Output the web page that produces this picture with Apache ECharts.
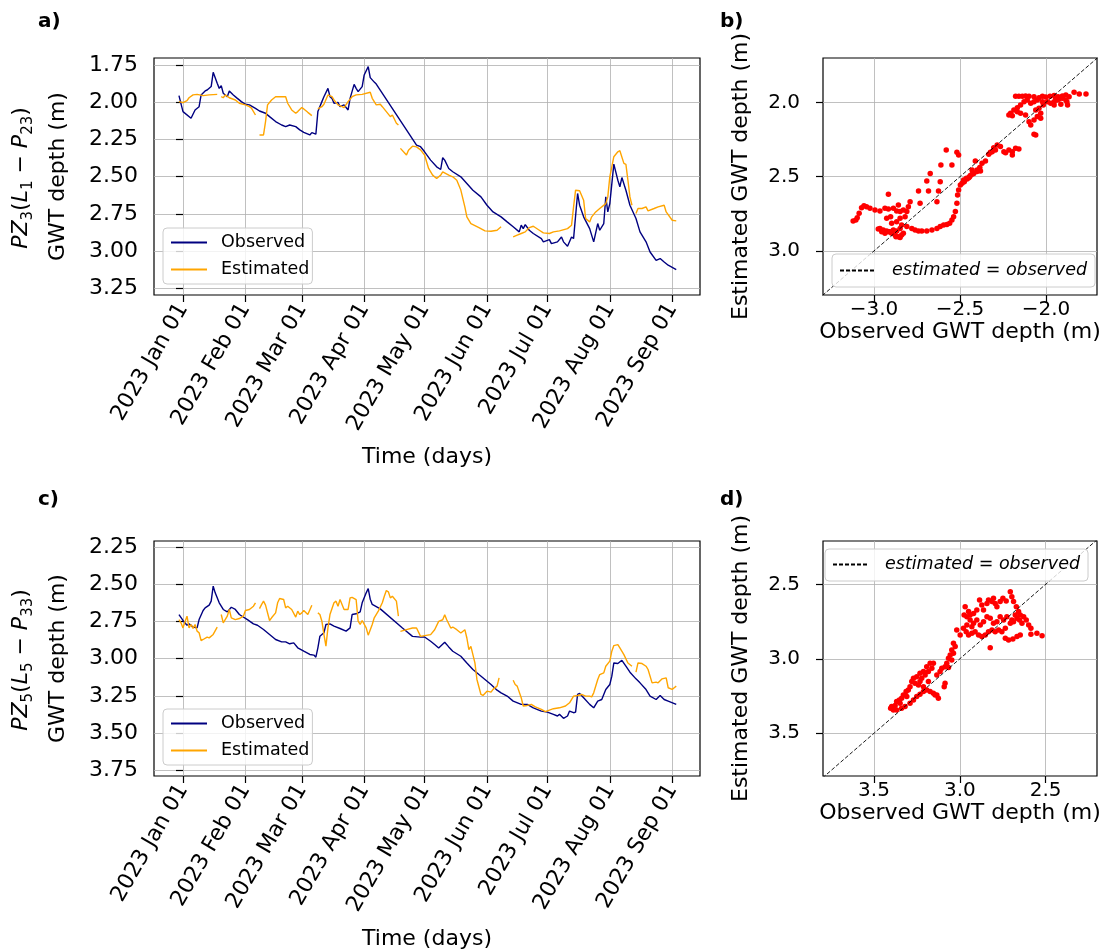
<!DOCTYPE html>
<html>
<head>
<meta charset="utf-8">
<script src="https://cdn.jsdelivr.net/npm/echarts@6/dist/echarts.min.js"></script>
<style>
  html, body { margin: 0; padding: 0; background: #fff; }
  #chart { width: 1110px; height: 951px; }
</style>
</head>
<body>
<div id="chart"></div>
<script>
// days counted from 2023-01-01
const monthStarts = [0, 31, 59, 90, 120, 151, 181, 212, 243]
const monthLabels = ['2023 Jan 01', '2023 Feb 01', '2023 Mar 01', '2023 Apr 01', '2023 May 01',
  '2023 Jun 01', '2023 Jul 01', '2023 Aug 01', '2023 Sep 01']

const depthTicksA = [1.75, 2.0, 2.25, 2.5, 2.75, 3.0, 3.25]
const depthTicksC = [2.25, 2.5, 2.75, 3.0, 3.25, 3.5, 3.75]
const obsTicksB = [-3.0, -2.5, -2.0]
const estTicksB = [2.0, 2.5, 3.0]
const ticksD = [2.5, 3.0, 3.5]

// PZ3 (L1 - P23): [day, depth]; null = missing data
const observedA = [
  [-2, 1.956], [0, 2.063], [4, 2.108], [6, 2.052], [8, 2.030], [9, 1.951], [11, 1.924], [12, 1.918],
  [14, 1.895], [15, 1.799], [17, 1.873], [18, 1.907], [19, 1.889], [20, 1.940], [22, 1.963], [23, 1.924],
  [25, 1.951], [27, 1.974], [29, 1.996], [31, 2.014], [33, 2.018], [36, 2.041], [38, 2.059], [41, 2.074],
  [43, 2.097], [46, 2.130], [49, 2.153], [51, 2.164], [53, 2.153], [56, 2.164], [58, 2.186], [60, 2.202],
  [63, 2.220], [64, 2.204], [66, 2.215], [67, 2.063], [69, 1.996], [70, 1.963], [72, 1.907], [73, 1.963],
  [74, 1.974], [75, 2.007], [77, 2.001], [78, 2.030], [80, 2.018], [82, 2.052], [83, 1.974], [85, 1.880],
  [86, 1.907], [87, 1.929], [89, 1.895], [90, 1.817], [92, 1.761], [93, 1.835], [95, 1.865], [96, 1.878],
  [116, 2.288], [118, 2.299], [120, 2.333], [123, 2.389], [126, 2.434], [128, 2.452], [129, 2.373],
  [130, 2.389], [132, 2.445], [134, 2.467], [138, 2.501], [141, 2.546], [144, 2.591], [148, 2.636],
  [151, 2.692], [154, 2.737], [158, 2.770], [161, 2.804], [164, 2.837], [167, 2.871], [168, 2.826],
  [169, 2.849], [170, 2.822], [172, 2.860], [174, 2.882], [178, 2.916], [179, 2.938], [182, 2.923],
  [183, 2.950], [186, 2.938], [188, 2.905], [189, 2.938], [191, 2.967], [193, 2.905], [194, 2.916],
  [196, 2.613], [197, 2.692], [199, 2.770], [202, 2.849], [204, 2.938], [206, 2.815], [207, 2.860],
  [209, 2.815], [210, 2.636], [211, 2.737], [212, 2.681], [214, 2.416], [216, 2.524], [217, 2.568],
  [218, 2.506], [220, 2.591], [222, 2.692], [225, 2.781], [227, 2.871], [230, 2.938], [232, 3.006],
  [235, 3.062], [237, 3.050], [239, 3.073], [241, 3.095], [245, 3.124]
]
const estimatedA = [
  [-2, 1.996], [0, 2.003], [2, 1.990], [3, 1.970], [5, 1.951], [7, 1.947], [10, 1.956], [13, 1.951], [17, 1.947],
  null,
  [19, 1.963], [20, 1.970], [21, 1.951], [23, 1.970], [26, 1.985], [28, 2.007], [31, 2.018], [33, 2.030],
  [34, 2.040], [36, 2.086],
  null,
  [38, 2.220], [40, 2.220], [41, 2.130], [42, 2.018], [44, 1.985], [46, 1.963], [48, 1.963], [51, 1.963],
  [52, 2.007], [54, 2.052], [56, 2.074], [57, 2.063], [59, 2.036], [60, 2.045], [62, 2.068], [64, 2.090],
  null,
  [67, 2.045], [69, 2.030], [70, 2.014], [72, 1.951], [74, 1.963], [75, 1.985], [77, 2.018], [79, 2.030],
  [80, 2.036], [82, 1.996], [84, 1.963], [86, 1.951], [89, 1.947], [93, 1.933], [94, 1.974], [96, 2.018],
  [98, 2.014], [99, 2.030], [101, 2.063], [103, 2.097], [104, 2.086], [106, 2.141], [107, 2.153],
  null,
  [108, 2.310], [111, 2.355], [112, 2.322], [114, 2.295], [116, 2.300], [118, 2.320], [120, 2.355],
  [122, 2.445], [124, 2.490], [126, 2.512], [128, 2.490], [129, 2.468], [132, 2.490], [134, 2.501],
  [136, 2.524], [138, 2.590], [140, 2.703], [141, 2.770], [143, 2.815], [147, 2.842], [150, 2.864],
  [153, 2.867], [156, 2.860], [158, 2.837],
  null,
  [164, 2.905], [166, 2.893], [168, 2.882], [170, 2.871], [172, 2.842], [174, 2.833], [177, 2.860],
  [179, 2.878], [182, 2.882], [184, 2.871], [187, 2.864], [191, 2.849], [193, 2.826], [194, 2.703],
  [195, 2.591], [197, 2.595], [199, 2.658], [200, 2.781], [202, 2.804], [203, 2.770], [205, 2.737],
  [207, 2.714], [210, 2.681], [211, 2.636], [212, 2.501], [214, 2.366], [216, 2.333], [217, 2.326],
  [219, 2.411], [220, 2.417], [221, 2.524], [222, 2.636], [223, 2.692],
  null,
  [225, 2.748], [226, 2.714], [228, 2.714], [230, 2.703], [231, 2.730], [234, 2.714], [236, 2.703],
  [239, 2.692], [240, 2.737], [243, 2.793], [245, 2.797]
]

// PZ5 (L5 - P33)
const observedC = [
  [-2, 2.703], [0, 2.743], [2, 2.775], [3, 2.766], [5, 2.788], [7, 2.793], [8, 2.737], [10, 2.676],
  [11, 2.658], [13, 2.640], [14, 2.613], [15, 2.512], [16, 2.557], [18, 2.624], [20, 2.669], [22, 2.685],
  [24, 2.654], [26, 2.669], [28, 2.703], [32, 2.737], [35, 2.766], [37, 2.775], [40, 2.804], [43, 2.837],
  [46, 2.871], [49, 2.887], [51, 2.887], [53, 2.900], [55, 2.894], [57, 2.927], [60, 2.950], [63, 2.972],
  [65, 2.976], [66, 2.990], [67, 2.927], [68, 2.849], [70, 2.826], [71, 2.770], [73, 2.766], [75, 2.781],
  [78, 2.797], [81, 2.815], [83, 2.793], [84, 2.703], [86, 2.698], [88, 2.685], [89, 2.624], [91, 2.557],
  [92, 2.528], [93, 2.600], [94, 2.635], [98, 2.665], [109, 2.794], [114, 2.850], [118, 2.855],
  [120, 2.854], [123, 2.883], [125, 2.905], [127, 2.928], [130, 2.890], [132, 2.921], [134, 2.950],
  [138, 2.984], [141, 3.029], [144, 3.073], [147, 3.107], [150, 3.140], [153, 3.174], [156, 3.212],
  [158, 3.230], [161, 3.252], [164, 3.286], [168, 3.308], [171, 3.308], [174, 3.331], [178, 3.353],
  [181, 3.360], [184, 3.375], [186, 3.386], [187, 3.375], [189, 3.402], [191, 3.386], [192, 3.353],
  [194, 3.364], [195, 3.360], [196, 3.241], [197, 3.234], [199, 3.263], [202, 3.308], [204, 3.331],
  [206, 3.286], [208, 3.275], [210, 3.208], [212, 3.174], [213, 3.118], [214, 3.029], [216, 3.033],
  [218, 3.011], [220, 3.051], [222, 3.091], [225, 3.136], [227, 3.163], [230, 3.208], [232, 3.252],
  [235, 3.275], [237, 3.248], [239, 3.275], [241, 3.286], [245, 3.308]
]
const estimatedC = [
  [-2, 2.737], [-1, 2.759], [0, 2.793], [1, 2.752], [2, 2.714], [3, 2.793], [4, 2.770], [5, 2.797],
  [6, 2.770], [7, 2.815], [8, 2.826], [9, 2.878], [10, 2.871], [12, 2.855], [13, 2.860], [15, 2.837], [17, 2.788],
  null,
  [19, 2.703], [20, 2.759], [22, 2.714], [23, 2.669], [24, 2.725], [26, 2.737], [28, 2.730], [30, 2.714],
  [31, 2.676], [33, 2.669], [35, 2.647], [36, 2.624],
  null,
  [38, 2.663], [39, 2.636], [40, 2.613], [41, 2.640], [43, 2.743], [44, 2.725], [46, 2.692], [47, 2.624],
  [48, 2.595], [50, 2.602], [51, 2.658], [52, 2.647], [54, 2.669], [56, 2.720], [57, 2.680], [58, 2.703],
  [59, 2.692], [60, 2.676], [62, 2.703], [64, 2.640],
  null,
  [67, 2.692], [68, 2.703], [69, 2.748], [70, 2.837], [71, 2.916], [72, 2.793], [73, 2.703], [75, 2.624],
  [76, 2.613], [77, 2.647], [78, 2.602], [80, 2.669], [82, 2.669], [83, 2.591], [84, 2.587], [86, 2.602],
  [87, 2.748], [88, 2.770], [89, 2.743], [91, 2.793], [92, 2.842], [94, 2.770], [95, 2.725], [97, 2.680],
  [99, 2.624], [100, 2.580], [101, 2.541], [102, 2.550], [103, 2.591], [104, 2.580], [106, 2.613], [107, 2.714],
  null,
  [108, 2.816], [111, 2.805], [114, 2.794], [116, 2.794], [118, 2.850], [120, 2.845], [123, 2.838],
  [125, 2.805], [127, 2.749], [129, 2.738], [130, 2.704], [131, 2.738], [133, 2.794], [134, 2.787],
  [136, 2.805], [138, 2.827], [140, 2.805], [141, 2.861], [142, 2.939], [143, 2.917], [145, 3.029],
  [146, 3.140], [148, 3.241], [149, 3.248], [151, 3.219], [153, 3.225], [154, 3.207], [156, 3.185], [157, 3.129],
  null,
  [164, 3.145], [165, 3.174], [166, 3.185], [168, 3.263], [169, 3.319], [171, 3.315], [173, 3.308],
  [175, 3.324], [178, 3.342], [180, 3.357], [182, 3.346], [184, 3.337], [187, 3.331], [190, 3.319],
  [192, 3.297], [194, 3.252], [196, 3.248], [198, 3.241], [200, 3.252], [202, 3.252], [203, 3.257],
  [204, 3.230], [206, 3.140], [207, 3.107], [209, 3.096], [210, 3.051], [212, 3.017], [213, 2.950],
  [214, 2.912], [216, 2.906], [217, 2.928], [219, 2.973], [221, 3.029], [223, 3.051],
  null,
  [225, 3.091], [226, 3.029], [228, 3.033], [230, 3.051], [231, 3.073], [233, 3.163], [235, 3.158],
  [236, 3.163], [238, 3.136], [240, 3.129], [241, 3.196], [243, 3.207], [244, 3.196], [245, 3.185]
]

// scatter b: [observed (negative depth), estimated depth]
const scatterB = [
  [-2.177, 1.960], [-2.158, 1.960], [-2.138, 1.960], [-2.119, 1.957], [-2.099, 1.960], [-2.070, 1.962],
  [-2.041, 1.969], [-2.021, 1.960], [-2.002, 1.964], [-1.977, 1.960], [-1.953, 1.955], [-1.930, 1.962],
  [-1.905, 1.957], [-1.885, 1.951], [-1.866, 1.962], [-1.837, 1.933], [-1.807, 1.944], [-1.768, 1.944],
  [-1.944, 1.973], [-1.924, 1.978], [-1.905, 1.973], [-1.885, 1.984], [-1.953, 1.996], [-1.973, 2.007],
  [-1.992, 1.996], [-2.021, 1.996], [-2.051, 1.984], [-2.070, 1.996], [-2.089, 2.007], [-2.109, 1.984],
  [-2.128, 1.996], [-2.148, 2.018], [-2.167, 2.036], [-2.187, 2.052], [-2.206, 2.074], [-2.216, 2.085],
  [-2.196, 2.090], [-2.167, 2.063], [-2.148, 2.074], [-2.119, 2.085], [-2.099, 2.130], [-2.089, 2.152],
  [-2.070, 2.119], [-2.051, 2.096], [-2.031, 2.074], [-2.060, 2.052], [-2.041, 2.040], [-2.016, 2.018],
  [-1.953, 2.018], [-1.914, 2.013], [-1.875, 2.018], [-1.879, 1.996], [-1.934, 1.984], [-2.031, 2.108],
  [-2.060, 2.220], [-2.070, 2.215],
  [-2.177, 2.309], [-2.158, 2.314], [-2.196, 2.332], [-2.216, 2.321], [-2.235, 2.339], [-2.245, 2.332],
  [-2.265, 2.298], [-2.284, 2.287], [-2.304, 2.305], [-2.323, 2.336], [-2.333, 2.350], [-2.313, 2.332],
  [-2.294, 2.321], [-2.196, 2.354],
  [-2.352, 2.395], [-2.372, 2.410], [-2.385, 2.439], [-2.411, 2.395], [-2.381, 2.462], [-2.401, 2.466],
  [-2.420, 2.478], [-2.430, 2.484], [-2.440, 2.493], [-2.449, 2.507], [-2.459, 2.516], [-2.475, 2.534],
  [-2.488, 2.545], [-2.498, 2.556], [-2.479, 2.522], [-2.463, 2.511], [-2.444, 2.500], [-2.430, 2.455],
  [-2.401, 2.455],
  [-2.580, 2.321], [-2.518, 2.336], [-2.508, 2.354], [-2.547, 2.422], [-2.611, 2.422], [-2.673, 2.478],
  [-2.693, 2.529], [-2.615, 2.534], [-2.625, 2.596], [-2.683, 2.596], [-2.741, 2.596], [-2.634, 2.668],
  [-2.916, 2.619], [-2.732, 2.679], [-2.790, 2.668], [-2.800, 2.702], [-2.858, 2.691], [-2.887, 2.713],
  [-2.868, 2.731], [-2.829, 2.724], [-2.809, 2.735], [-2.848, 2.735], [-2.903, 2.769], [-2.926, 2.780],
  [-2.897, 2.814], [-2.848, 2.780], [-2.819, 2.769], [-2.868, 2.803], [-2.839, 2.825], [-2.809, 2.836],
  [-3.121, 2.798], [-3.105, 2.791], [-3.097, 2.776], [-3.086, 2.747], [-3.072, 2.709], [-3.058, 2.695],
  [-3.043, 2.702], [-3.023, 2.713], [-2.994, 2.724], [-2.965, 2.731], [-2.936, 2.713], [-2.916, 2.717],
  [-2.965, 2.848], [-2.946, 2.859], [-2.926, 2.865], [-2.907, 2.870], [-2.887, 2.859], [-2.868, 2.865],
  [-2.848, 2.848], [-2.955, 2.870], [-2.936, 2.881], [-2.897, 2.881], [-2.877, 2.892], [-2.858, 2.904],
  [-2.839, 2.892], [-2.829, 2.881], [-2.848, 2.910], [-2.872, 2.904], [-2.916, 2.870], [-2.975, 2.852],
  [-2.780, 2.848], [-2.761, 2.859], [-2.741, 2.865], [-2.722, 2.865], [-2.693, 2.865], [-2.663, 2.859],
  [-2.634, 2.848], [-2.615, 2.836], [-2.595, 2.825], [-2.576, 2.821], [-2.560, 2.814], [-2.547, 2.791],
  [-2.537, 2.769], [-2.527, 2.735], [-2.518, 2.679], [-2.514, 2.623], [-2.508, 2.590]
]

// scatter d: [observed depth, estimated depth]
const scatterD = [
  [2.969, 2.650], [2.949, 2.683], [2.975, 2.706], [2.959, 2.717], [2.940, 2.706], [2.920, 2.695],
  [2.901, 2.672], [2.885, 2.605], [2.872, 2.639], [2.862, 2.672], [2.842, 2.628], [2.833, 2.605],
  [2.813, 2.616], [2.804, 2.594], [2.794, 2.628], [2.784, 2.650], [2.765, 2.616], [2.749, 2.594],
  [2.730, 2.612], [2.706, 2.549], [2.697, 2.583], [2.687, 2.616], [2.671, 2.650], [2.658, 2.683],
  [2.648, 2.706], [2.667, 2.728], [2.687, 2.751], [2.706, 2.762], [2.726, 2.717], [2.745, 2.739],
  [2.765, 2.717], [2.784, 2.751], [2.804, 2.762], [2.823, 2.728], [2.842, 2.717], [2.862, 2.751],
  [2.881, 2.773], [2.901, 2.739], [2.920, 2.762], [2.930, 2.784], [2.940, 2.739], [2.959, 2.773],
  [2.979, 2.795], [2.963, 2.818], [2.949, 2.840], [2.930, 2.829], [2.911, 2.818], [2.891, 2.840],
  [2.872, 2.851], [2.852, 2.840], [2.833, 2.818], [2.813, 2.806], [2.794, 2.818], [2.774, 2.806],
  [2.755, 2.818], [2.735, 2.795], [2.697, 2.739], [2.677, 2.706], [2.652, 2.739], [2.638, 2.762],
  [2.628, 2.717], [2.613, 2.739], [2.599, 2.773], [2.586, 2.795], [2.648, 2.840], [2.667, 2.851],
  [2.691, 2.867], [2.716, 2.874], [2.735, 2.862], [2.586, 2.836], [2.551, 2.829], [2.521, 2.845],
  [2.823, 2.925], [3.018, 2.806], [2.998, 2.840],
  [3.037, 2.896], [3.027, 2.918], [3.047, 2.941], [3.037, 2.963], [3.056, 2.974], [3.066, 2.997],
  [3.047, 3.008], [3.076, 3.030], [3.086, 3.053], [3.066, 3.059],
  [3.154, 3.030], [3.173, 3.030], [3.193, 3.053], [3.163, 3.064], [3.183, 3.086], [3.212, 3.086],
  [3.232, 3.097], [3.202, 3.109], [3.222, 3.131], [3.251, 3.120], [3.270, 3.131], [3.280, 3.153],
  [3.261, 3.164], [3.241, 3.176], [3.232, 3.153], [3.290, 3.187], [3.300, 3.209], [3.313, 3.220],
  [3.329, 3.243], [3.309, 3.254], [3.339, 3.265], [3.352, 3.276], [3.368, 3.287], [3.348, 3.299],
  [3.377, 3.314], [3.397, 3.321], [3.403, 3.332], [3.387, 3.343], [3.368, 3.343], [3.339, 3.332],
  [3.319, 3.321], [3.290, 3.299], [3.270, 3.276], [3.251, 3.254], [3.232, 3.238], [3.212, 3.220],
  [3.193, 3.209], [3.173, 3.220], [3.154, 3.232], [3.134, 3.243], [3.125, 3.265], [3.144, 3.243],
  [3.086, 3.164], [3.091, 3.187], [3.115, 3.086], [3.134, 3.109], [3.105, 3.064], [3.183, 3.153],
  [3.212, 3.187]
]

const identityB = [[-3.3, 3.3], [-1.7, 1.7]]
const identityD = [[3.8, 3.8], [2.2, 2.2]]

const FONT = 'DejaVu Sans'
const GRID_COLOR = '#b0b0b0'

const withGaps = (arr) => arr.map((p, i) => p === null ? [arr[i - 1][0] + 0.5, '-'] : p)

const frame = { show: true, borderColor: '#000', borderWidth: 1.2 }

const axisName = { color: '#000', fontSize: 22, fontFamily: FONT }
const tickLine = { color: '#000', width: 1.2 }

const timeAxis = (gridIndex, gap) => ({
  type: 'value',
  gridIndex,
  min: -14.4,
  max: 256.8,
  name: 'Time (days)',
  nameLocation: 'middle',
  nameGap: gap,
  nameTextStyle: axisName,
  axisLine: { show: false },
  axisTick: { show: true, customValues: monthStarts, length: 7, lineStyle: tickLine },
  axisLabel: {
    color: '#000',
    fontSize: 22,
    fontFamily: FONT,
    customValues: monthStarts,
    rotate: 60,
    margin: 10,
    formatter: (v) => monthLabels[monthStarts.indexOf(v)]
  },
  splitLine: { show: true, lineStyle: { color: GRID_COLOR, width: 0.8 } }
})

const valueAxis = (gridIndex, min, max, ticks, digits, size, margin, opts) => ({
  type: 'value',
  gridIndex,
  min,
  max,
  axisLine: { show: false },
  axisTick: { show: true, customValues: ticks, length: 7, lineStyle: tickLine },
  axisLabel: {
    color: '#000',
    fontSize: size,
    fontFamily: FONT,
    customValues: ticks,
    margin,
    formatter: (v) => (v < 0 ? '\u2212' : '') + Math.abs(v).toFixed(digits)
  },
  splitLine: { show: true, lineStyle: { color: GRID_COLOR, width: 0.8 } },
  nameLocation: 'middle',
  nameTextStyle: axisName,
  ...opts
})

const legendBase = {
  orient: 'vertical',
  backgroundColor: 'rgba(255,255,255,0.8)',
  borderColor: '#cccccc',
  borderWidth: 1,
  borderRadius: 4,
  itemWidth: 36,
  itemHeight: 14,
  itemGap: 6,
  itemStyle: { opacity: 0, borderWidth: 0 },
  textStyle: { color: '#000', fontSize: 17.5, fontFamily: FONT, lineHeight: 21, padding: [0, 0, 0, 9] }
}
const italicLegendText = { ...legendBase.textStyle, fontStyle: 'italic', padding: [0, 0, 0, 11] }

const mathRich = {
  i: { fontSize: 22, fontFamily: FONT, fontStyle: 'italic', lineHeight: 30, fill: '#000' },
  n: { fontSize: 22, fontFamily: FONT, lineHeight: 30, fill: '#000' },
  s: { fontSize: 15, fontFamily: FONT, lineHeight: 30, verticalAlign: 'bottom', fill: '#000' }
}

const panelLabel = (text, left, top) => ({
  type: 'text', left, top, style: { text, font: 'bold 20px "DejaVu Sans"', fill: '#000' }
})

const chart = echarts.init(document.getElementById('chart'))

const option = {
  animation: false,
  backgroundColor: '#fff',
  grid: [
    { left: 154, top: 58, width: 546, height: 237, ...frame },
    { left: 823, top: 58, width: 274, height: 237, ...frame },
    { left: 154, top: 541, width: 546, height: 235, ...frame },
    { left: 823, top: 541, width: 274, height: 235, ...frame }
  ],
  xAxis: [
    timeAxis(0, 151),
    valueAxis(1, -3.296, -1.704, obsTicksB, 1, 20, 5, { name: 'Observed GWT depth (m)', nameGap: 26 }),
    timeAxis(2, 152),
    valueAxis(3, 2.201, 3.797, ticksD, 1, 20, 5, { inverse: true, name: 'Observed GWT depth (m)', nameGap: 26 })
  ],
  yAxis: [
    valueAxis(0, 1.703, 3.295, depthTicksA, 2, 22, 16, { inverse: true, name: 'GWT depth (m)', nameGap: 85 }),
    valueAxis(1, 1.702, 3.296, estTicksB, 1, 20, 23, { inverse: true, name: 'Estimated GWT depth (m)', nameGap: 71 }),
    valueAxis(2, 2.208, 3.790, depthTicksC, 2, 22, 16, { inverse: true, name: 'GWT depth (m)', nameGap: 85 }),
    valueAxis(3, 2.209, 3.787, ticksD, 1, 20, 23, { inverse: true, name: 'Estimated GWT depth (m)', nameGap: 71 })
  ],
  legend: [
    { ...legendBase, left: 163, top: 228, padding: [4, 3, 4, 7], data: ['Observed', 'Estimated'] },
    { ...legendBase, left: 832, top: 254, padding: [6, 8, 6, 7], data: ['estimated = observed'], textStyle: italicLegendText },
    { ...legendBase, left: 163, top: 709, padding: [4, 3, 4, 7], data: ['Observed', 'Estimated'] },
    { ...legendBase, left: 825, top: 549, padding: [5, 8, 6, 7], data: ['estimated = observed'], textStyle: italicLegendText }
  ],
  graphic: [
    panelLabel('a)', 38, 12),
    panelLabel('b)', 720, 12),
    panelLabel('c)', 38, 490),
    panelLabel('d)', 720, 490),
    { type: 'text', x: 21, y: 178, rotation: Math.PI / 2,
      style: { text: '{i|PZ}{s|3}{n|(}{i|L}{s|1}{n| \u2212 }{i|P}{s|23}{n|)}', rich: mathRich,
        align: 'center', verticalAlign: 'middle' } },
    { type: 'text', x: 21, y: 660, rotation: Math.PI / 2,
      style: { text: '{i|PZ}{s|5}{n|(}{i|L}{s|5}{n| \u2212 }{i|P}{s|33}{n|)}', rich: mathRich,
        align: 'center', verticalAlign: 'middle' } }
  ],
  series: [
    { name: 'Observed', type: 'line', xAxisIndex: 0, yAxisIndex: 0, data: observedA, symbol: 'none',
      lineStyle: { color: '#000080', width: 1.4 }, itemStyle: { color: '#000080' } },
    { name: 'Estimated', type: 'line', xAxisIndex: 0, yAxisIndex: 0, data: withGaps(estimatedA), symbol: 'none',
      connectNulls: false, lineStyle: { color: '#ffa500', width: 1.4 }, itemStyle: { color: '#ffa500' } },
    { name: 'Observed', type: 'line', xAxisIndex: 2, yAxisIndex: 2, data: observedC, symbol: 'none',
      lineStyle: { color: '#000080', width: 1.4 }, itemStyle: { color: '#000080' } },
    { name: 'Estimated', type: 'line', xAxisIndex: 2, yAxisIndex: 2, data: withGaps(estimatedC), symbol: 'none',
      connectNulls: false, lineStyle: { color: '#ffa500', width: 1.4 }, itemStyle: { color: '#ffa500' } },
    { type: 'scatter', xAxisIndex: 1, yAxisIndex: 1, data: scatterB, symbolSize: 5.5,
      itemStyle: { color: '#ff0000', opacity: 1 } },
    { type: 'scatter', xAxisIndex: 3, yAxisIndex: 3, data: scatterD, symbolSize: 5.5,
      itemStyle: { color: '#ff0000', opacity: 1 } },
    { name: 'estimated = observed', type: 'line', xAxisIndex: 1, yAxisIndex: 1, data: identityB, symbol: 'none',
      clip: true, z: 3, lineStyle: { color: '#000', width: 0.9, type: [4, 2] }, itemStyle: { color: '#000' } },
    { name: 'estimated = observed', type: 'line', xAxisIndex: 3, yAxisIndex: 3, data: identityD, symbol: 'none',
      clip: true, z: 3, lineStyle: { color: '#000', width: 0.9, type: [4, 2] }, itemStyle: { color: '#000' } }
  ]
}

chart.setOption(option)
</script>
</body>
</html>
